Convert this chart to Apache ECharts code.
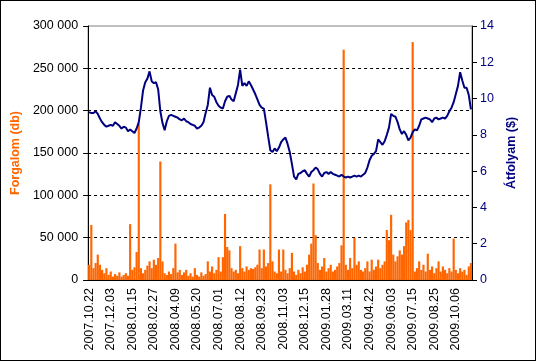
<!DOCTYPE html>
<html>
<head>
<meta charset="utf-8">
<script src="https://cdn.jsdelivr.net/npm/echarts@6/dist/echarts.min.js"></script>
<style>
html,body{margin:0;padding:0;background:#fff;}
#c{width:534px;height:359px;border:1px solid #000;}
</style>
</head>
<body>
<div id="c"></div>
<script>
// Tick labels (every 10th category)
const tickLabels = ['2007.10.22','2007.12.03','2008.01.15','2008.02.27','2008.04.09','2008.05.20','2008.07.01','2008.08.12','2008.09.23','2008.11.03','2008.12.15','2009.01.28','2009.03.11','2009.04.22','2009.06.03','2009.07.15','2009.08.25','2009.10.06'];
const totalPoints = 178;

// Forgalom (db) in thousands
const volumeK = [
 18,65,14,20,30,18,12,8,14,6,
 10,4,7,5,9,4,6,8,5,66,
 12,15,33,185,14,8,12,17,22,14,
 24,18,26,140,22,8,6,10,7,14,
 43,9,12,6,9,12,5,8,4,14,
 6,4,9,5,7,22,10,16,8,12,
 27,10,27,78,39,35,14,10,12,8,
 40,14,10,16,12,14,13,15,18,36,
 14,36,16,20,113,22,10,8,36,10,
 36,12,8,14,32,10,6,12,8,15,
 10,18,30,43,114,53,20,12,16,26,
 10,14,18,10,12,16,20,41,272,18,
 12,26,14,50,18,22,12,10,14,22,
 10,24,12,16,24,14,18,22,59,47,
 77,30,22,28,35,30,40,68,71,59,
 281,10,14,22,12,18,10,31,12,16,
 8,14,22,10,16,12,8,14,10,49,
 12,8,14,10,12,6,16,20
];

// Átfolyam ($)
const price = [
 9.25,9.2,9.2,9.3,9.15,8.9,8.7,8.55,8.45,8.5,
 8.55,8.5,8.7,8.6,8.5,8.35,8.45,8.4,8.2,8.3,
 8.2,8.1,8.35,8.7,9.5,10.45,10.9,11.1,11.5,10.95,
 10.85,10.9,10.5,9.3,8.65,8.25,8.75,9.05,9.1,9.05,
 9.0,8.95,8.85,8.8,8.9,8.75,8.7,8.6,8.55,8.5,
 8.35,8.4,8.5,8.7,9.2,9.65,10.6,10.2,10.1,9.8,
 9.6,9.5,9.45,9.85,10.1,10.15,9.95,9.85,10.3,10.75,
 11.6,10.7,10.85,10.7,10.95,10.75,10.5,10.25,9.95,9.65,
 9.5,9.45,8.7,7.9,7.15,7.05,7.25,7.1,7.3,7.6,
 7.75,7.85,7.5,7.05,6.4,5.7,5.55,5.85,5.9,6.0,
 6.05,5.85,5.7,5.95,6.05,6.2,6.1,5.85,5.7,5.9,
 5.95,5.85,5.95,5.85,5.8,5.75,5.7,5.8,5.7,5.65,
 5.7,5.65,5.7,5.75,5.7,5.75,5.7,5.8,5.9,6.2,
 6.6,6.85,6.95,7.1,7.75,7.6,7.45,7.65,8.0,8.4,
 9.15,9.05,9.0,8.7,8.3,8.05,8.2,8.0,7.7,7.85,
 8.15,8.3,8.25,8.5,8.85,8.9,8.95,8.9,8.85,8.7,
 8.9,8.95,8.85,8.9,8.95,8.9,9.05,9.3,9.5,9.8,
 10.25,10.7,11.45,11.0,10.6,10.6,10.2,9.4
];

const categories = [];
for (let i = 0; i < totalPoints; i++) {
  const li = Math.floor(i / 10);
  categories.push(i % 10 === 0 ? tickLabels[li] : (tickLabels[li] + '_' + (i % 10)));
}
const volume = volumeK.map(v => v * 1000);

const fmtSpace = v => String(v).replace(/\B(?=(\d{3})+(?!\d))/g, ' ');
const FONT = 'Liberation Sans, Arial, sans-serif';

const chart = echarts.init(document.getElementById('c'), null, {renderer: 'canvas'});
chart.setOption({
  animation: false,
  backgroundColor: '#fff',
  grid: {left: 82, right: 63, top: 25, bottom: 80, show: true, borderColor: '#808080', borderWidth: 1, backgroundColor: '#fff'},
  xAxis: {
    type: 'category',
    data: categories,
    boundaryGap: true,
    axisLine: {lineStyle: {color: '#000', width: 1}},
    axisTick: {show: false},
    axisLabel: {
      interval: 9, rotate: 90, margin: 8, color: '#000', fontSize: 12.5, fontFamily: FONT,
      formatter: v => (v.indexOf('_') >= 0 ? '' : v)
    },
    splitLine: {show: false}
  },
  yAxis: [
    {
      type: 'value', min: 0, max: 300000, interval: 50000, position: 'left',
      name: 'Forgalom (db)', nameLocation: 'middle', nameGap: 60, nameRotate: 90,
      nameTextStyle: {color: '#FF6600', fontWeight: 'bold', fontSize: 12.5, fontFamily: FONT},
      axisLine: {show: true, lineStyle: {color: '#000'}},
      axisTick: {show: true, length: 5, lineStyle: {color: '#000'}},
      axisLabel: {color: '#000', fontSize: 12.5, fontFamily: FONT, margin: 10, formatter: fmtSpace},
      splitLine: {show: true, showMinLine: false, showMaxLine: false, lineStyle: {color: '#000', type: [3, 3], width: 1}}
    },
    {
      type: 'value', min: 0, max: 14, interval: 2, position: 'right',
      name: 'Átfolyam ($)', nameLocation: 'middle', nameGap: 30, nameRotate: 90,
      nameTextStyle: {color: '#000080', fontWeight: 'bold', fontSize: 12.5, fontFamily: FONT},
      axisLine: {show: true, lineStyle: {color: '#000'}},
      axisTick: {show: true, length: 5, lineStyle: {color: '#000'}},
      axisLabel: {color: '#000080', fontSize: 12.5, fontFamily: FONT, margin: 8},
      splitLine: {show: false}
    }
  ],
  series: [
    {
      type: 'bar', data: volume, yAxisIndex: 0,
      itemStyle: {color: '#FF6600'}, barCategoryGap: '0%', z: 2
    },
    {
      type: 'line', data: price, yAxisIndex: 1, symbol: 'none',
      lineStyle: {color: '#000080', width: 2}, z: 3
    }
  ]
});
</script>
</body>
</html>
